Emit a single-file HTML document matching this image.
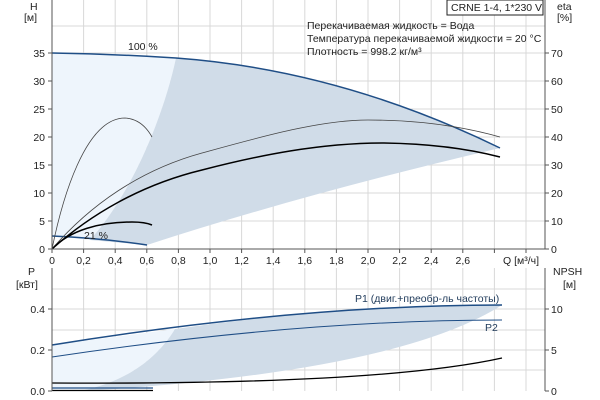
<!DOCTYPE html>
<html><head><meta charset="utf-8"><style>
body{margin:0;background:#fff}
svg{display:block;font-family:"Liberation Sans",sans-serif;font-size:10.5px}
</style></head><body>
<svg width="600" height="400" viewBox="0 0 600 400">
<!-- TOP PLOT -->
<g stroke="#d8d8d8" stroke-width="1">
<path d="M52,221H545M52,193H545M52,165H545M52,137H545M52,109H545M52,81H545M52,53H545M52,26H545"/>
<path d="M83.6,0V249M115.2,0V249M146.8,0V249M178.4,0V249M210,0V249M241.6,0V249M273.2,0V249M304.8,0V249M336.4,0V249M368,0V249M399.6,0V249M431.2,0V249M462.8,0V249M494.4,0V249M526,0V249"/>
</g>
<path d="M52,53 Q115,54 176,58 L176,58 C165,110 135,190 90,240 L52,236 Z" fill="#eef5fc"/>
<path d="M176,58 Q340,70 500,148 Q300,195 147,245 L90,240 C135,190 165,110 176,58 Z" fill="#d0dce8"/>
<path d="M52,236 Q100,238 147,245" stroke="#1f4e86" stroke-width="1.5" fill="none"/>
<path d="M52,53 Q115,54 176,58 Q340,70 500,148" stroke="#1f4e86" stroke-width="1.5" fill="none"/>
<path d="M52,249 C90,205 140,170 202,153 C260,137 320,120 368,120 Q440,120 500,137" stroke="#444" stroke-width="0.8" fill="none"/>
<path d="M52,249 C90,215 140,185 202,170 C260,155 320,143 384,143 Q450,144 500,157" stroke="#000" stroke-width="1.5" fill="none"/>
<path d="M52,249 C62,200 85,118 125,118 Q142,119 152,137" stroke="#444" stroke-width="0.8" fill="none"/>
<path d="M52,249 C70,230 100,222 132,222 Q145,222 152,225" stroke="#000" stroke-width="1.5" fill="none"/>
<path d="M52,0V249H545M545,0V249" stroke="#555" fill="none"/>
<g stroke="#555"><path d="M48,249H52M48,221H52M48,193H52M48,165H52M48,137H52M48,109H52M48,81H52M48,53H52M545,249H549M545,221H549M545,193H549M545,165H549M545,137H549M545,109H549M545,81H549M545,53H549"/>
<path d="M52,249V253M83.6,249V253M115.2,249V253M146.8,249V253M178.4,249V253M210,249V253M241.6,249V253M273.2,249V253M304.8,249V253M336.4,249V253M368,249V253M399.6,249V253M431.2,249V253M462.8,249V253M494.4,249V253M526,249V253"/></g>
<g text-anchor="end" fill="#222"><text x="45" y="253">0</text><text x="45" y="225">5</text><text x="45" y="197">10</text><text x="45" y="169">15</text><text x="45" y="141">20</text><text x="45" y="113">25</text><text x="45" y="85">30</text><text x="45" y="57">35</text></g>
<g fill="#222"><text x="551" y="253">0</text><text x="551" y="225">10</text><text x="551" y="197">20</text><text x="551" y="169">30</text><text x="551" y="141">40</text><text x="551" y="113">50</text><text x="551" y="85">60</text><text x="551" y="57">70</text></g>
<g text-anchor="middle" fill="#222"><text x="52" y="264">0</text><text x="83.6" y="264">0,2</text><text x="115.2" y="264">0,4</text><text x="146.8" y="264">0,6</text><text x="178.4" y="264">0,8</text><text x="210" y="264">1,0</text><text x="241.6" y="264">1,2</text><text x="273.2" y="264">1,4</text><text x="304.8" y="264">1,6</text><text x="336.4" y="264">1,8</text><text x="368" y="264">2,0</text><text x="399.6" y="264">2,2</text><text x="431.2" y="264">2,4</text><text x="462.8" y="264">2,6</text></g>
<text x="503" y="264" fill="#222">Q [м³/ч]</text>
<text x="30" y="10" fill="#222">H</text><text x="24" y="21" fill="#222">[м]</text>
<text x="557" y="10" fill="#222">eta</text><text x="557" y="21" fill="#222">[%]</text>
<rect x="447" y="0" width="96" height="15" fill="#fff" stroke="#222"/>
<text x="451" y="11" fill="#222">CRNE 1-4, 1*230 V</text>
<g fill="#222"><text x="307" y="29">Перекачиваемая жидкость = Вода</text><text x="307" y="42">Температура перекачиваемой жидкости = 20 °C</text><text x="307" y="55">Плотность = 998.2 кг/м³</text></g>
<text x="128" y="50" fill="#222">100 %</text>
<text x="84" y="239" fill="#222">21 %</text>
<!-- BOTTOM PLOT -->
<g stroke="#d8d8d8"><path d="M52,289H545M52,309H545M52,330H545M52,350H545M52,370H545"/>
<path d="M83.6,268V391M115.2,268V391M146.8,268V391M178.4,268V391M210,268V391M241.6,268V391M273.2,268V391M304.8,268V391M336.4,268V391M368,268V391M399.6,268V391M431.2,268V391M462.8,268V391M494.4,268V391M526,268V391"/></g>
<path d="M52,345 Q115,337 175,329 C150,370 110,385 80,391 L52,391 Z" fill="#eef5fc"/>
<path d="M175,329 Q340,305 502,305 Q400,370 100,390 L80,391 C110,385 150,370 175,329 Z" fill="#d0dce8"/>
<path d="M52,345 Q300,305 502,305" stroke="#1f4e86" stroke-width="1.5" fill="none"/>
<path d="M52,357 Q300,320 502,320" stroke="#1f4e86" stroke-width="1" fill="none"/>
<path d="M52,383 Q380,385 502,358" stroke="#000" stroke-width="1.3" fill="none"/>
<path d="M52,388H153" stroke="#1f4e86" stroke-width="1.3"/><path d="M52,390.5H153" stroke="#000" stroke-width="1.3"/>
<path d="M52,268V391M545,268V391" stroke="#555" fill="none"/>
<g stroke="#555"><path d="M48,391H52M48,350H52M48,309H52M545,391H549M545,350H549M545,309H549"/></g>
<g text-anchor="end" fill="#222"><text x="45" y="395">0.0</text><text x="45" y="354">0.2</text><text x="45" y="313">0.4</text></g>
<g fill="#222"><text x="551" y="395">0</text><text x="551" y="354">5</text><text x="551" y="313">10</text></g>
<text x="28" y="275" fill="#222">P</text><text x="16" y="288" fill="#222">[кВт]</text>
<text x="553" y="275" fill="#222">NPSH</text><text x="563" y="288" fill="#222">[м]</text>
<text x="355" y="302" fill="#1f3a5a">P1 (двиг.+преобр-ль частоты)</text>
<text x="485" y="331" fill="#1f3a5a">P2</text>
</svg>
</body></html>
